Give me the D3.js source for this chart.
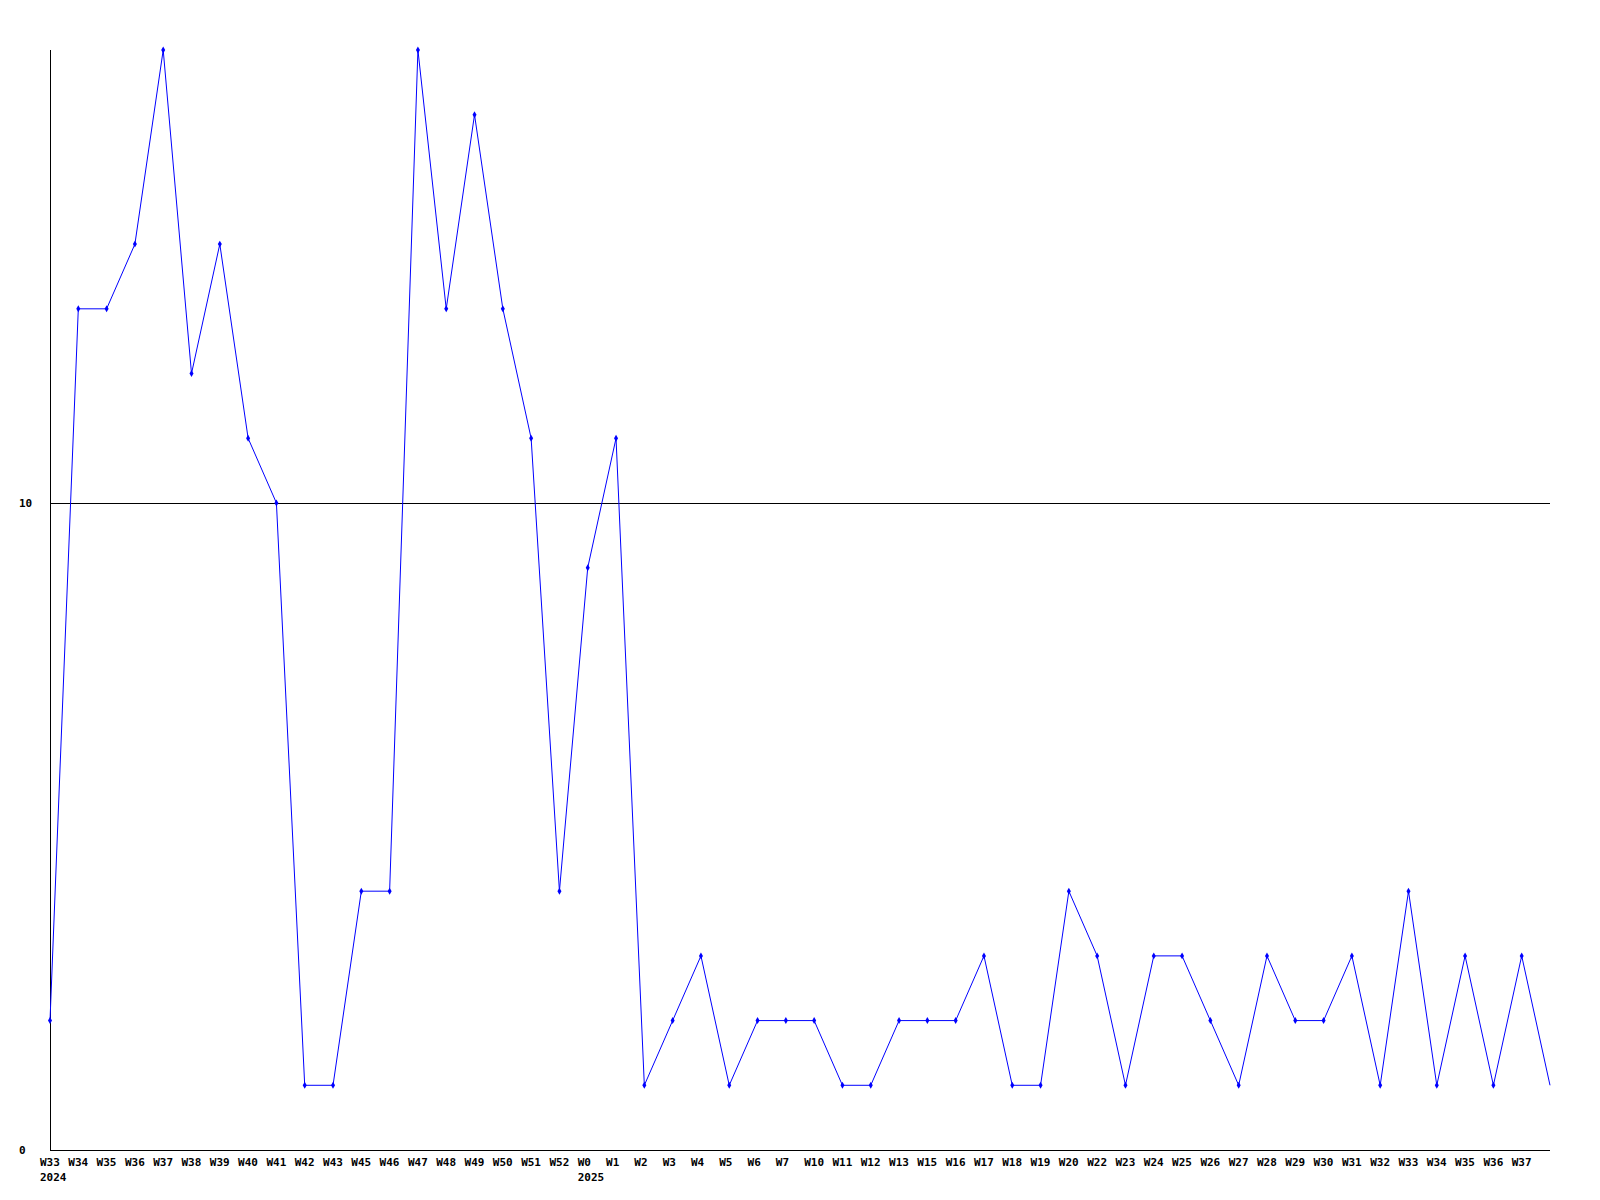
<!DOCTYPE html>
<html>
<head>
<meta charset="utf-8">
<script src="https://cdn.jsdelivr.net/npm/d3@7"></script>
<style>
  body { margin: 0; background: #fff; }
  svg text { font-family: "DejaVu Sans Mono", monospace; font-weight: bold; font-size: 11px; fill: #000; }
</style>
</head>
<body>
<div id="chart"></div>
<script>
// week labels (last point has no label)
var weeks = ['W33','W34','W35','W36','W37','W38','W39','W40','W41','W42','W43','W45','W46','W47','W48','W49','W50','W51','W52','W0',
  'W1','W2','W3','W4','W5','W6','W7','W10','W11','W12','W13','W15','W16','W17','W18','W19','W20','W22','W23','W24','W25','W26',
  'W27','W28','W29','W30','W31','W32','W33','W34','W35','W36','W37',''];
// year shown under first week of each year
var years = { 0: '2024', 19: '2025' };
var values = [2,13,13,14,17,12,14,11,10,1,1,4,4,17,13,16,13,11,4,9,
  11,1,2,3,1,2,2,2,1,1,2,2,2,3,1,1,4,3,1,3,3,2,
  1,3,2,2,3,1,4,1,3,1,3,1];
var yTicks = [0, 10];

var size = { w: 1600, h: 1200, left: 50, right: 1550, top: 50, bottom: 1150 };

var svg = d3.select('#chart').append('svg')
  .attr('width', size.w)
  .attr('height', size.h);

var x = d3.scaleLinear()
  .domain([0, values.length - 1])
  .range([size.left, size.right]);
var y = d3.scaleLinear()
  .domain([0, 17])
  .range([size.bottom, size.top]);

// gridline at 10
svg.append('g').selectAll('line').data(yTicks.filter(function(d) { return d > 0; }))
  .enter().append('line')
  .attr('x1', size.left).attr('x2', size.right)
  .attr('y1', function(d) { return Math.round(y(d)) + 0.5; })
  .attr('y2', function(d) { return Math.round(y(d)) + 0.5; })
  .attr('stroke', '#000');

// axes lines
svg.append('line')
  .attr('x1', size.left + 0.5).attr('x2', size.left + 0.5)
  .attr('y1', size.top).attr('y2', size.bottom)
  .attr('stroke', '#000');
svg.append('line')
  .attr('x1', size.left).attr('x2', size.right)
  .attr('y1', size.bottom + 0.5).attr('y2', size.bottom + 0.5)
  .attr('stroke', '#000');

// y labels
svg.append('g').selectAll('text').data(yTicks)
  .enter().append('text')
  .attr('x', 19)
  .attr('y', function(d) { return y(d); })
  .attr('dy', '0.35em')
  .text(function(d) { return d; });

// x labels
var xl = svg.append('g');
weeks.forEach(function(w, i) {
  if(!w) return;
  xl.append('text')
    .attr('x', x(i) - 10)
    .attr('y', size.bottom + 12)
    .attr('dy', '0.35em')
    .text(w);
  if(years[i]) {
    xl.append('text')
      .attr('x', x(i) - 10)
      .attr('y', size.bottom + 27)
      .attr('dy', '0.35em')
      .text(years[i]);
  }
});

// series line
var line = d3.line()
  .x(function(d, i) { return x(i); })
  .y(function(d) { return y(d); });
svg.append('path')
  .datum(values)
  .attr('d', line)
  .attr('fill', 'none')
  .attr('stroke', '#0000ff')
  .attr('stroke-width', 1);

// markers (last point sits on the edge, no marker)
svg.append('g').selectAll('path').data(values.slice(0, -1))
  .enter().append('path')
  .attr('d', d3.symbol().type(d3.symbolDiamond).size(14))
  .attr('transform', function(d, i) { return 'translate(' + x(i) + ',' + y(d) + ')'; })
  .attr('fill', '#0000ff');
</script>
</body>
</html>
